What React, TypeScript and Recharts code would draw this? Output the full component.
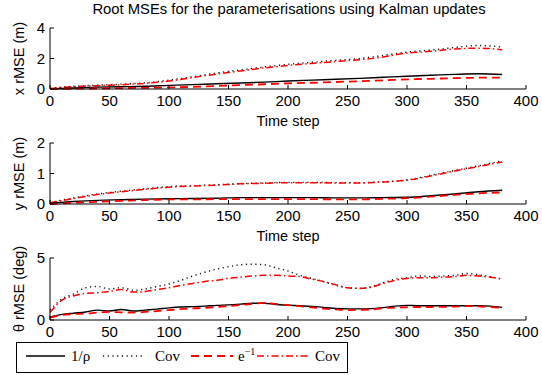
import { Line, LineChart, XAxis, YAxis } from "recharts";

// time steps (categories)
const STEPS_20 = [0, 20, 40, 60, 80, 100, 120, 140, 160, 180, 200, 220, 240, 260, 280, 300, 320, 340, 360, 380];
const STEPS_10 = [
	0, 10, 20, 30, 40, 50, 60, 70, 80, 90, 100, 110, 120, 130, 140, 150, 160, 170, 180, 190,
	200, 210, 220, 230, 240, 250, 260, 270, 280, 290, 300, 310, 320, 330, 340, 350, 360, 370, 380,
];
const X_TICKS = [0, 50, 100, 150, 200, 250, 300, 350, 400];

// x rMSE (m)
const X_RHO = [0, 0.07, 0.12, 0.15, 0.18, 0.24, 0.29, 0.34, 0.39, 0.45, 0.52, 0.58, 0.64, 0.7, 0.77, 0.84, 0.9, 0.96, 1.0, 0.95];
const X_COV_RHO = [0.05, 0.18, 0.25, 0.32, 0.4, 0.58, 0.8, 1.05, 1.25, 1.45, 1.62, 1.75, 1.88, 2.0, 2.2, 2.42, 2.55, 2.72, 2.85, 2.75];
const X_EXP = [0, 0.02, 0.04, 0.06, 0.08, 0.1, 0.14, 0.2, 0.26, 0.31, 0.37, 0.41, 0.46, 0.51, 0.57, 0.63, 0.67, 0.71, 0.74, 0.75];
const X_COV_EXP = [0.03, 0.15, 0.22, 0.28, 0.37, 0.52, 0.75, 0.98, 1.18, 1.38, 1.54, 1.68, 1.8, 1.92, 2.1, 2.36, 2.47, 2.62, 2.68, 2.57];

// y rMSE (m)
const Y_RHO = [0.02, 0.08, 0.12, 0.14, 0.16, 0.17, 0.18, 0.19, 0.21, 0.21, 0.21, 0.21, 0.2, 0.2, 0.21, 0.22, 0.27, 0.33, 0.4, 0.45];
const Y_COV_RHO = [0.05, 0.2, 0.33, 0.42, 0.5, 0.57, 0.6, 0.63, 0.67, 0.69, 0.71, 0.71, 0.7, 0.7, 0.73, 0.79, 0.94, 1.1, 1.25, 1.42];
const Y_EXP = [0, 0.04, 0.07, 0.1, 0.13, 0.15, 0.15, 0.16, 0.16, 0.16, 0.16, 0.16, 0.15, 0.15, 0.17, 0.19, 0.24, 0.3, 0.35, 0.38];
const Y_COV_EXP = [0.04, 0.18, 0.31, 0.4, 0.48, 0.55, 0.59, 0.62, 0.66, 0.68, 0.7, 0.7, 0.69, 0.69, 0.72, 0.78, 0.92, 1.08, 1.23, 1.38];

// θ rMSE (deg)
const TH_RHO = [
	0.25, 0.45, 0.55, 0.65, 0.8, 0.72, 0.85, 0.72, 0.8, 0.88, 0.98, 1.05, 1.08, 1.12, 1.18, 1.22, 1.28, 1.35, 1.35, 1.25,
	1.2, 1.15, 1.1, 1.02, 0.93, 0.9, 0.9, 0.92, 1.0, 1.12, 1.18, 1.15, 1.15, 1.15, 1.15, 1.15, 1.15, 1.12, 1.02,
];
const TH_COV_RHO = [
	0.8, 1.7, 2.1, 2.6, 2.7, 2.5, 2.6, 2.4, 2.5, 2.7, 2.9, 3.2, 3.55, 3.85, 4.1, 4.3, 4.45, 4.5, 4.45, 4.2,
	3.95, 3.6, 3.35, 3.1, 2.8, 2.6, 2.55, 2.7, 3.0, 3.3, 3.4, 3.55, 3.5, 3.55, 3.6, 3.75, 3.65, 3.5, 3.3,
];
const TH_EXP = [
	0.2, 0.4, 0.48, 0.52, 0.6, 0.65, 0.62, 0.6, 0.65, 0.72, 0.8, 0.88, 0.93, 0.98, 1.05, 1.12, 1.2, 1.3, 1.38, 1.3,
	1.2, 1.12, 1.02, 0.92, 0.85, 0.8, 0.82, 0.85, 0.95, 1.0, 1.03, 1.05, 1.05, 1.06, 1.08, 1.12, 1.1, 1.05, 0.98,
];
const TH_COV_EXP = [
	0.6, 1.6, 1.95, 2.15, 2.2, 2.3, 2.45, 2.25, 2.3, 2.45, 2.6, 2.8, 2.95, 3.1, 3.2, 3.35, 3.45, 3.55, 3.6, 3.6,
	3.55, 3.5, 3.3, 3.1, 2.85, 2.6, 2.55, 2.65, 2.95, 3.2, 3.35, 3.4, 3.4, 3.45, 3.5, 3.6, 3.55, 3.45, 3.3,
];

const RED = "#ff0000";
const DOT_DASH = "1.2 3.5";
const AXIS_FONT = "'Liberation Sans', Arial, sans-serif";
const SERIF = "'Liberation Serif', 'Times New Roman', serif";

function buildRows(steps: number[], rho: number[], covRho: number[], exp: number[], covExp: number[]) {
	return steps.map((t, i) => ({ t, rho: rho[i], covRho: covRho[i], exp: exp[i], covExp: covExp[i] }));
}

interface PanelProps {
	top: number;
	height: number;
	xAxisHeight: number;
	data: ReturnType<typeof buildRows>;
	yMax: number;
	yTicks: number[];
	yLabel: string;
	timeLabel: boolean;
}

function Panel({ top, height, xAxisHeight, data, yMax, yTicks, yLabel, timeLabel }: PanelProps) {
	const tickStyle = { fill: "#000", fontSize: 15, fontFamily: AXIS_FONT };
	return (
		<div style={{ position: "absolute", left: 0, top, width: 542, height }}>
			<LineChart width={542} height={height} data={data} margin={{ top: 28, right: 16, left: 0, bottom: 0 }}>
				<XAxis
					dataKey="t"
					type="number"
					domain={[0, 400]}
					ticks={X_TICKS}
					height={xAxisHeight}
					tickSize={-4}
					tickMargin={10}
					stroke="#000"
					tick={tickStyle}
					label={
						timeLabel
							? { value: "Time step", position: "insideBottom", offset: 4, fill: "#000", fontSize: 14.5, fontFamily: AXIS_FONT }
							: undefined
					}
				/>
				<XAxis xAxisId="top" orientation="top" dataKey="t" type="number" domain={[0, 400]} ticks={X_TICKS} height={0} tick={false} tickSize={-4} stroke="#000" />
				<YAxis
					type="number"
					domain={[0, yMax]}
					ticks={yTicks}
					width={50}
					tickSize={-4}
					tickMargin={9}
					stroke="#000"
					tick={tickStyle}
					label={{
						value: yLabel,
						angle: -90,
						position: "insideLeft",
						offset: 19,
						fill: "#000",
						fontSize: 14.5,
						fontFamily: AXIS_FONT,
						style: { textAnchor: "middle" },
					}}
				/>
				<YAxis yAxisId="right" orientation="right" type="number" domain={[0, yMax]} ticks={yTicks} width={0} tick={false} tickSize={-4} stroke="#000" />

				<Line type="monotone" dataKey="covRho" stroke="#111" strokeWidth={1.4} strokeDasharray={DOT_DASH} dot={false} isAnimationActive={false} />
				<Line type="monotone" dataKey="covExp" stroke={RED} strokeWidth={1.5} strokeDasharray="7 3 1.5 3" dot={false} isAnimationActive={false} />
				<Line type="monotone" dataKey="rho" stroke="#000" strokeWidth={1.4} dot={false} isAnimationActive={false} />
				<Line type="monotone" dataKey="exp" stroke={RED} strokeWidth={1.8} strokeDasharray="8 5" dot={false} isAnimationActive={false} />
			</LineChart>
		</div>
	);
}

function LegendBox() {
	const textStyle = { fontFamily: SERIF, fontSize: 15, fill: "#000" };
	return (
		<svg style={{ position: "absolute", left: 16, top: 342 }} width={333} height={32}>
			<rect x={0.5} y={0.5} width={331} height={30} fill="#fff" stroke="#000" strokeWidth={1} />
			<line x1={10} x2={49} y1={14} y2={14} stroke="#000" strokeWidth={1.4} />
			<text x={55} y={19} {...textStyle}>1/ρ</text>
			<line x1={87} x2={127} y1={14} y2={14} stroke="#111" strokeWidth={1.4} strokeDasharray={DOT_DASH} />
			<text x={139} y={19} {...textStyle}>Cov</text>
			<line x1={175} x2={217} y1={14} y2={14} stroke={RED} strokeWidth={1.8} strokeDasharray="8 5" />
			<text x={222} y={19} {...textStyle}>
				e<tspan dy={-6} fontSize={10}>−1</tspan>
			</text>
			<line x1={241} x2={294} y1={14} y2={14} stroke={RED} strokeWidth={1.5} strokeDasharray="7 3 1.5 3" />
			<text x={299} y={19} {...textStyle}>Cov</text>
		</svg>
	);
}

export default function App() {
	const xRows = buildRows(STEPS_20, X_RHO, X_COV_RHO, X_EXP, X_COV_EXP);
	const yRows = buildRows(STEPS_20, Y_RHO, Y_COV_RHO, Y_EXP, Y_COV_EXP);
	const thRows = buildRows(STEPS_10, TH_RHO, TH_COV_RHO, TH_EXP, TH_COV_EXP);

	return (
		<div style={{ position: "absolute", left: 0, top: 0, width: 542, height: 375, background: "#fff", overflow: "hidden" }}>
			<div
				style={{
					position: "absolute",
					left: 0,
					top: 1,
					width: 578,
					textAlign: "center",
					fontFamily: AXIS_FONT,
					fontSize: 14.8,
					color: "#000",
				}}
			>
				Root MSEs for the parameterisations using Kalman updates
			</div>
			<Panel top={0} height={130} xAxisHeight={41} data={xRows} yMax={4} yTicks={[0, 2, 4]} yLabel="x rMSE (m)" timeLabel />
			<Panel top={115} height={130} xAxisHeight={41} data={yRows} yMax={2} yTicks={[0, 1, 2]} yLabel="y rMSE (m)" timeLabel />
			<Panel top={230} height={120} xAxisHeight={30} data={thRows} yMax={5} yTicks={[0, 5]} yLabel="θ rMSE (deg)" timeLabel={false} />
			<LegendBox />
		</div>
	);
}
